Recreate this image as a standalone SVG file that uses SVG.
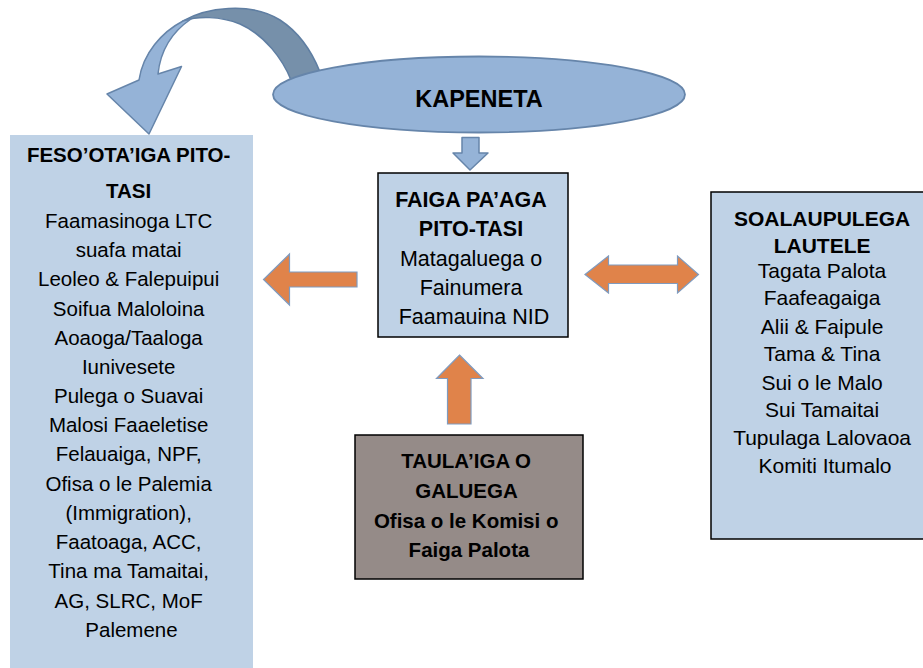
<svg xmlns="http://www.w3.org/2000/svg" width="923" height="668" viewBox="0 0 923 668">
<style>
.t{font-family:"Liberation Sans",Arial,sans-serif;fill:#000;text-anchor:middle}
.b{font-weight:bold}
.box{fill:#BFD2E6}
.bdr{stroke:#000;stroke-width:1.5}
.orange{fill:#E0834A;stroke:#7F9BBF;stroke-width:1.2;stroke-linejoin:miter}
.blue{fill:#95B3D7;stroke:#6685AA;stroke-width:1.5;stroke-linejoin:round}
.dark{fill:#7690AA;stroke:#5F7EA2;stroke-width:1.5;stroke-linejoin:round}
</style>
<rect width="923" height="668" fill="#fff"/>

<g id="connectors">
  <!-- curved arrow from KAPENETA to left box -->
  <path class="dark" d="M 183,21 C 205,8 250,1 280,20 C 300,33 312,52 320,72 L 322,92 L 290,92 L 291,80 C 283,60 265,35 240,24 C 220,16 198,16 183,21 Z"/>
  <path class="blue" d="M 183,21 C 162,32 143,53 139,80 L 107,94 L 149,134 L 181.5,66.5 L 158,74 C 160,55 169,34 191,19 Z"/>
  <!-- down arrow to FAIGA box -->
  <path class="blue" d="M 462,137.5 L 479,137.5 L 479,153 L 488,153 L 470,170 L 453,153 L 462,153 Z"/>
  <!-- left arrow to FESO'OTA'IGA -->
  <path class="orange" d="M 357,272 L 357,287 L 289.5,287 L 289.5,305 L 263.5,279.5 L 289.5,254 L 289.5,272 Z"/>
  <!-- double arrow -->
  <path class="orange" d="M 585,274.5 L 608.5,256 L 608.5,265 L 677.5,265 L 677.5,256 L 698.5,274.5 L 677.5,293 L 677.5,283.5 L 608.5,283.5 L 608.5,293 Z"/>
  <!-- up arrow -->
  <path class="orange" d="M 459.5,355 L 483,378.5 L 471,378.5 L 471,424 L 447.5,424 L 447.5,378.5 L 436.5,378.5 Z"/>
</g>

<g id="node-kapeneta">
  <ellipse cx="479" cy="94.5" rx="206" ry="38" fill="#95B3D7" stroke="#6685AA" stroke-width="1.8"/>
  <text class="t b" x="479" y="107" font-size="23.5">KAPENETA</text>
</g>

<g id="node-fesootaiga">
  <rect class="box" x="10" y="135" width="243" height="545"/>
  <text class="t" font-size="20.5">
    <tspan class="b" x="131.5" y="162">FESO’OTA’IGA PITO-</tspan>
    <tspan class="b" x="131.5" y="198">TASI</tspan>
    <tspan x="131.5" y="228">Faamasinoga LTC</tspan>
    <tspan x="131.5" y="257">suafa matai</tspan>
    <tspan x="131.5" y="286">Leoleo &amp; Falepuipui</tspan>
    <tspan x="131.5" y="315.5">Soifua Maloloina</tspan>
    <tspan x="131.5" y="344.5">Aoaoga/Taaloga</tspan>
    <tspan x="131.5" y="373.5">Iunivesete</tspan>
    <tspan x="131.5" y="402.5">Pulega o Suavai</tspan>
    <tspan x="131.5" y="432">Malosi Faaeletise</tspan>
    <tspan x="131.5" y="461">Felauaiga, NPF,</tspan>
    <tspan x="131.5" y="490.5">Ofisa o le Palemia</tspan>
    <tspan x="131.5" y="519.5">(Immigration),</tspan>
    <tspan x="131.5" y="549">Faatoaga, ACC,</tspan>
    <tspan x="131.5" y="578">Tina ma Tamaitai,</tspan>
    <tspan x="131.5" y="608">AG, SLRC, MoF</tspan>
    <tspan x="131.5" y="637">Palemene</tspan>
  </text>
</g>

<g id="node-faiga">
  <rect class="box bdr" x="378" y="173" width="190" height="164"/>
  <text class="t" font-size="21.5">
    <tspan class="b" x="474" y="207">FAIGA PA’AGA</tspan>
    <tspan class="b" x="474" y="236">PITO-TASI</tspan>
    <tspan x="474" y="265.5">Matagaluega o</tspan>
    <tspan x="474" y="295">Fainumera</tspan>
    <tspan x="474" y="324">Faamauina NID</tspan>
  </text>
</g>

<g id="node-soalaupulega">
  <rect class="box bdr" x="711" y="192" width="230" height="347"/>
  <text class="t" font-size="21">
    <tspan class="b" x="825" y="225.5">SOALAUPULEGA</tspan>
    <tspan class="b" x="825" y="252.5">LAUTELE</tspan>
    <tspan x="825" y="277.5">Tagata Palota</tspan>
    <tspan x="825" y="305">Faafeagaiga</tspan>
    <tspan x="825" y="333.5">Alii &amp; Faipule</tspan>
    <tspan x="825" y="361">Tama &amp; Tina</tspan>
    <tspan x="825" y="389.5">Sui o le Malo</tspan>
    <tspan x="825" y="417">Sui Tamaitai</tspan>
    <tspan x="825" y="445">Tupulaga Lalovaoa</tspan>
    <tspan x="825" y="473">Komiti Itumalo</tspan>
  </text>
</g>

<g id="node-taulaiga">
  <rect class="bdr" x="355" y="435" width="228" height="144" fill="#958B88"/>
  <text class="t b" font-size="20.5">
    <tspan x="469" y="468">TAULA’IGA O</tspan>
    <tspan x="469" y="498">GALUEGA</tspan>
    <tspan x="469" y="528">Ofisa o le Komisi o</tspan>
    <tspan x="469" y="556.5">Faiga Palota</tspan>
  </text>
</g>
</svg>
